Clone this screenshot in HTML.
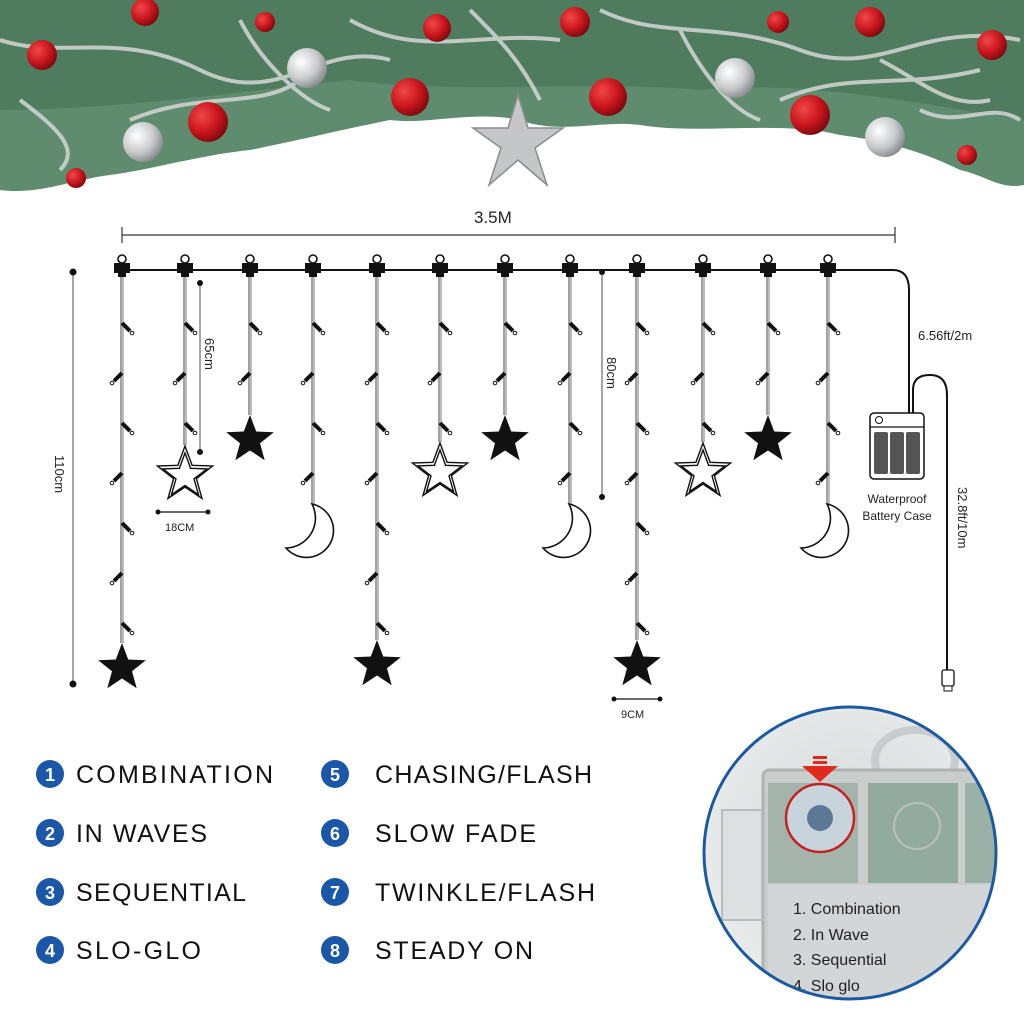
<!DOCTYPE html>
<html><head><meta charset="utf-8"><style>
html,body{margin:0;padding:0;background:#fff;}
svg{display:block;}
text{font-family:"Liberation Sans",sans-serif;}
</style></head><body>
<svg id="s" width="1024" height="1013" viewBox="0 0 1024 1013" xmlns="http://www.w3.org/2000/svg">
<defs>
<radialGradient id="red" cx="35%" cy="35%" r="70%"><stop offset="0" stop-color="#f04848"/><stop offset="0.6" stop-color="#c8141c"/><stop offset="1" stop-color="#7a0a0e"/></radialGradient>
<radialGradient id="sil" cx="35%" cy="35%" r="70%"><stop offset="0" stop-color="#ffffff"/><stop offset="0.6" stop-color="#c8cacc"/><stop offset="1" stop-color="#85898c"/></radialGradient>
<radialGradient id="ph" cx="50%" cy="45%" r="60%"><stop offset="0" stop-color="#d4d9d8"/><stop offset="1" stop-color="#eceeee"/></radialGradient>
</defs>
<path d="M0,0 H1024 V185 C1000,190 985,175 960,170 C920,150 880,140 840,135 C780,120 700,135 640,125 C600,120 560,135 520,120 C470,110 430,125 390,120 C340,130 300,140 250,150 C200,155 150,170 110,175 C70,180 40,195 0,190 Z" fill="#5f8c6f"/>
<path d="M0,0 H1024 V120 C900,100 800,80 700,90 C600,80 450,95 350,80 C250,90 120,110 0,110 Z" fill="#4f7b5e"/>
<g fill="none" stroke="#d4d8d4" stroke-width="4" opacity="0.85">
<path d="M0,40 C60,60 120,30 200,70 S320,40 390,60"/><path d="M350,20 C420,60 480,30 560,40"/><path d="M600,10 C660,40 720,20 800,50 S920,20 1020,40"/><path d="M130,120 C200,90 260,110 300,80"/><path d="M780,100 C850,70 900,90 980,70"/><path d="M20,100 C60,130 80,150 60,170"/><path d="M920,110 C960,130 990,100 1020,120"/>
<path d="M240,20 C260,60 300,100 330,110"/><path d="M680,30 C700,70 730,110 760,120"/><path d="M880,60 C920,80 950,110 990,100"/><path d="M470,10 C500,40 520,60 540,100"/>
</g>
<g>
<circle cx="42" cy="55" r="15" fill="url(#red)"/><circle cx="145" cy="12" r="14" fill="url(#red)"/><circle cx="265" cy="22" r="10" fill="url(#red)"/><circle cx="437" cy="28" r="14" fill="url(#red)"/><circle cx="575" cy="22" r="15" fill="url(#red)"/><circle cx="608" cy="97" r="19" fill="url(#red)"/><circle cx="208" cy="122" r="20" fill="url(#red)"/><circle cx="410" cy="97" r="19" fill="url(#red)"/><circle cx="778" cy="22" r="11" fill="url(#red)"/><circle cx="810" cy="115" r="20" fill="url(#red)"/><circle cx="870" cy="22" r="15" fill="url(#red)"/><circle cx="992" cy="45" r="15" fill="url(#red)"/><circle cx="967" cy="155" r="10" fill="url(#red)"/><circle cx="76" cy="178" r="10" fill="url(#red)"/>
<circle cx="307" cy="68" r="20" fill="url(#sil)"/><circle cx="143" cy="142" r="20" fill="url(#sil)"/><circle cx="735" cy="78" r="20" fill="url(#sil)"/><circle cx="885" cy="137" r="20" fill="url(#sil)"/>
<polygon points="518,95 528,128 563,128 535,148 547,185 518,160 489,185 501,148 473,128 508,128" fill="#c4c6c8" stroke="#8a8c8e" stroke-width="1.5"/>
</g>
<text x="474" y="223" font-size="17" fill="#222">3.5M</text>
<line x1="122" y1="235" x2="895" y2="235" stroke="#333" stroke-width="1.2"/>
<line x1="122" y1="227" x2="122" y2="243" stroke="#333" stroke-width="1.2"/>
<line x1="895" y1="227" x2="895" y2="243" stroke="#333" stroke-width="1.2"/>
<path d="M115,270 H893 Q909,270 909,290 V413" fill="none" stroke="#111" stroke-width="2"/>
<path d="M913,413 V390 Q913,375 930,375 Q947,375 947,395 V672" fill="none" stroke="#111" stroke-width="2"/>
<text x="918" y="340" font-size="13" fill="#222">6.56ft/2m</text>
<text transform="translate(958,487) rotate(90)" font-size="13" fill="#222">32.8ft/10m</text>
<rect x="942" y="670" width="12" height="16" rx="2" fill="#fff" stroke="#111" stroke-width="1.3"/><rect x="944" y="686" width="8" height="5" fill="#fff" stroke="#111"/>
<rect x="870" y="413" width="54" height="66" rx="4" fill="#fff" stroke="#111" stroke-width="1.5"/>
<line x1="870" y1="427" x2="924" y2="427" stroke="#111" stroke-width="1.2"/>
<circle cx="879" cy="420" r="3.5" fill="none" stroke="#111"/>
<rect x="874" y="432" width="14" height="42" rx="2" fill="#555"/><rect x="890" y="432" width="14" height="42" rx="2" fill="#555"/><rect x="906" y="432" width="14" height="42" rx="2" fill="#555"/>
<text x="897" y="503" font-size="12" fill="#222" text-anchor="middle">Waterproof</text>
<text x="897" y="520" font-size="12" fill="#222" text-anchor="middle">Battery Case</text>
<line x1="73" y1="272" x2="73" y2="684" stroke="#777" stroke-width="1.3"/><circle cx="73" cy="272" r="3.5" fill="#111"/><circle cx="73" cy="684" r="3.5" fill="#111"/>
<text transform="translate(55,455) rotate(90)" font-size="13" fill="#222">110cm</text>
<line x1="200" y1="283" x2="200" y2="452" stroke="#777" stroke-width="1.3"/><circle cx="200" cy="283" r="3" fill="#111"/><circle cx="200" cy="452" r="3" fill="#111"/>
<text transform="translate(205,338) rotate(90)" font-size="13" fill="#222">65cm</text>
<line x1="602" y1="272" x2="602" y2="497" stroke="#777" stroke-width="1.3"/><circle cx="602" cy="272" r="3" fill="#111"/><circle cx="602" cy="497" r="3" fill="#111"/>
<text transform="translate(607,357) rotate(90)" font-size="13" fill="#222">80cm</text>
<line x1="158" y1="512" x2="208" y2="512" stroke="#111" stroke-width="1.3"/><circle cx="158" cy="512" r="2.5" fill="#111"/><circle cx="208" cy="512" r="2.5" fill="#111"/>
<text x="165" y="531" font-size="11" fill="#222">18CM</text>
<line x1="614" y1="699" x2="660" y2="699" stroke="#111" stroke-width="1.3"/><circle cx="614" cy="699" r="2.5" fill="#111"/><circle cx="660" cy="699" r="2.5" fill="#111"/>
<text x="621" y="718" font-size="11" fill="#222">9CM</text>
<g id="strands"></g>
<g font-size="25" fill="#111">
<g fill="#1a57a8"><circle cx="50" cy="774" r="14"/><circle cx="50" cy="833" r="14"/><circle cx="50" cy="892" r="14"/><circle cx="50" cy="950" r="14"/><circle cx="335" cy="774" r="14"/><circle cx="335" cy="833" r="14"/><circle cx="335" cy="892" r="14"/><circle cx="335" cy="950" r="14"/></g>
<g fill="#fff" font-size="18" font-weight="bold" text-anchor="middle"><text x="50" y="781">1</text><text x="50" y="840">2</text><text x="50" y="899">3</text><text x="50" y="957">4</text><text x="335" y="781">5</text><text x="335" y="840">6</text><text x="335" y="899">7</text><text x="335" y="957">8</text></g>
<text x="76" y="783" textLength="197">COMBINATION</text><text x="76" y="842" textLength="131">IN WAVES</text><text x="76" y="901" textLength="170">SEQUENTIAL</text><text x="76" y="959" textLength="125">SLO-GLO</text>
<text x="375" y="783" textLength="217">CHASING/FLASH</text><text x="375" y="842" textLength="161">SLOW FADE</text><text x="375" y="901" textLength="220">TWINKLE/FLASH</text><text x="375" y="959" textLength="158">STEADY ON</text>
</g>
<clipPath id="cc"><circle cx="850" cy="853" r="146"/></clipPath>
<g clip-path="url(#cc)">
<rect x="700" y="700" width="300" height="310" fill="url(#ph)"/>
<ellipse cx="915" cy="760" rx="40" ry="30" fill="none" stroke="#c8cccc" stroke-width="8"/>
<rect x="763" y="770" width="260" height="250" rx="6" fill="#c9cecd" stroke="#aeb3b2" stroke-width="3"/>
<rect x="768" y="783" width="90" height="100" fill="#8da393" opacity="0.6"/><rect x="868" y="783" width="90" height="100" fill="#6f9380" opacity="0.6"/><rect x="965" y="783" width="60" height="100" fill="#6f9380" opacity="0.5"/>
<rect x="768" y="885" width="260" height="130" fill="#d3d6d6"/>
<rect x="722" y="810" width="40" height="110" fill="#dde0e0" stroke="#b8bcbc" stroke-width="2"/>
<circle cx="820" cy="818" r="34" fill="#c8d4dc" stroke="#c42222" stroke-width="2.5"/><circle cx="820" cy="818" r="13" fill="#5d7895"/>
<circle cx="917" cy="826" r="23" fill="none" stroke="#b8c0bc" stroke-width="2"/>
<g font-size="16" fill="#222"><text x="793" y="914">1. Combination</text><text x="793" y="940">2. In Wave</text><text x="793" y="965">3. Sequential</text><text x="793" y="991">4. Slo glo</text></g>
</g>
<circle cx="850" cy="853" r="146" fill="none" stroke="#1b5aa0" stroke-width="3"/>
<rect x="813" y="756" width="14" height="3" fill="#e02a1e"/><rect x="813" y="761" width="14" height="3" fill="#e02a1e"/>
<polygon points="802,766 838,766 820,782" fill="#e02a1e"/>
</svg>
<script>
(function(){
var g=document.getElementById('strands'),h='';
function star(cx,cy,R,r){var p=[];for(var i=0;i<10;i++){var a=-Math.PI/2+i*Math.PI/5,rr=i%2?r:R;p.push((cx+rr*Math.cos(a)).toFixed(1)+','+(cy+rr*Math.sin(a)).toFixed(1));}return p.join(' ');}
var xs=[122,185,250,313,377,440,505,570,637,703,768,828];
var types=['F','O','F','M','F','O','F','M','F','O','F','M'];
var ends=[668,475,440,530,665,472,440,530,665,472,440,530];
for(var i=0;i<12;i++){
 var x=xs[i],t=types[i],c=ends[i];
 var top = t=='F'? c-25 : t=='O'? c-30 : c-26;
 h+='<path d="M'+(x-1)+',276 L'+(x-1)+','+top+'" stroke="#444" stroke-width="1" fill="none"/>';
 h+='<path d="M'+(x+1)+',276 L'+(x+1)+','+top+'" stroke="#777" stroke-width="1" fill="none"/>';
 var k=0;
 for(var y=323;y<top-15;y+=50){
  var s=(k%2==0)?1:-1;k++;
  h+='<line x1="'+x+'" y1="'+y+'" x2="'+(x+s*8)+'" y2="'+(y+8)+'" stroke="#111" stroke-width="4"/>';
  h+='<circle cx="'+(x+s*10)+'" cy="'+(y+10)+'" r="1.8" fill="#fff" stroke="#111" stroke-width="1"/>';
 }
 h+='<circle cx="'+x+'" cy="259" r="4" fill="none" stroke="#111" stroke-width="1.6"/>';
 h+='<rect x="'+(x-8)+'" y="263" width="16" height="10" fill="#111"/><rect x="'+(x-4)+'" y="273" width="8" height="4" fill="#111"/>';
 if(t=='F'){h+='<polygon points="'+star(x,c,25,10.5)+'" fill="#111"/>';}
 else if(t=='O'){h+='<polygon points="'+star(x,c,29,12)+'" fill="none" stroke="#111" stroke-width="1.4"/><polygon points="'+star(x,c+1,23,9.5)+'" fill="none" stroke="#111" stroke-width="1.4"/>';}
 else {var dx=x-313,dy=c-530;
  h+='<g transform="translate('+dx+','+dy+')"><path d="M312,504 A27,27 0 1 1 286,548 A30,30 0 0 0 312,504 Z" fill="none" stroke="#111" stroke-width="1.6"/></g>';}
}
g.innerHTML=h;
})();
</script>
</body></html>
